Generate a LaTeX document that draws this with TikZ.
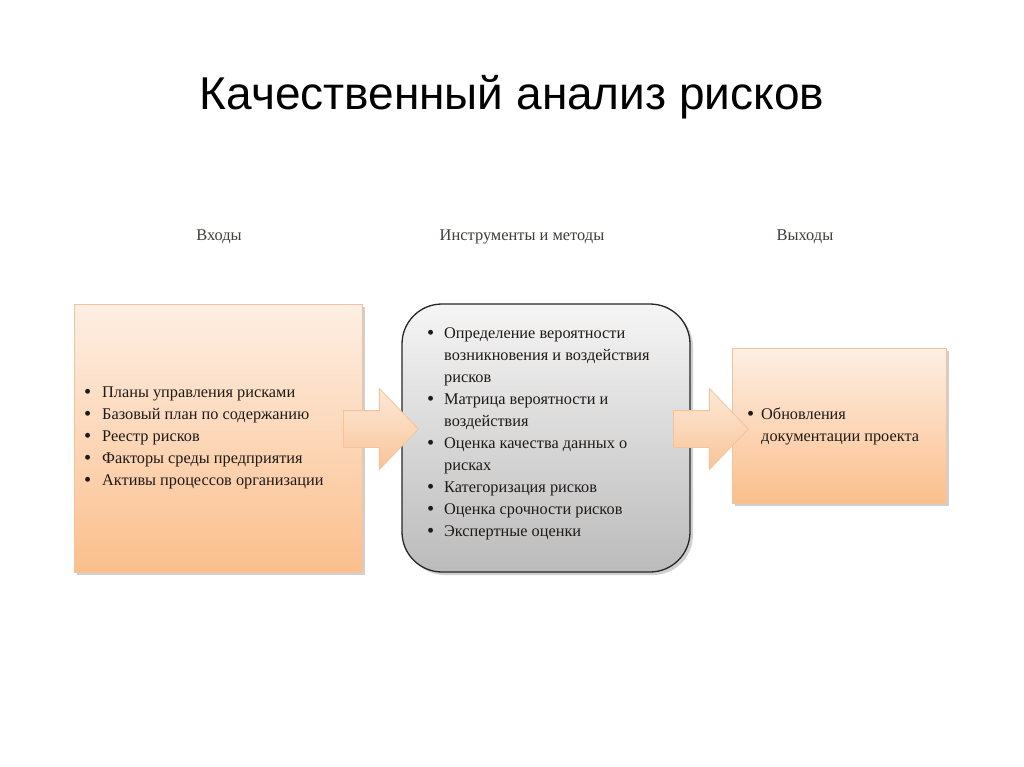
\documentclass[tikz,border=0pt]{standalone}
\usepackage{fontspec}
\setmainfont{Liberation Serif}
\newfontfamily\titlefont{Liberation Sans}
\usetikzlibrary{shadows,shapes.arrows}
\definecolor{txt}{HTML}{1E1A18}
\definecolor{peachtop}{HTML}{FDEFE4}
\definecolor{peachbot}{HTML}{FBBF8C}
\definecolor{peachline}{HTML}{F2C39C}
\definecolor{graytop}{HTML}{F5F5F5}
\definecolor{graybot}{HTML}{BBBBBB}
\definecolor{arrtop}{HTML}{FDE9D8}
\definecolor{arrbot}{HTML}{F9C497}
\newcommand{\bul}{\raisebox{-0.9pt}{\scalebox{1.25}{\textbullet}}}
\newcommand{\bl}[1]{\makebox[#1][l]{\bul}}
\tikzset{
  x=1pt, y=-1pt,
  softshadow/.style={drop shadow={shadow xshift=3pt, shadow yshift=-3pt, opacity=0.30, fill=black!60}},
  peachbox/.style={draw=peachline, line width=0.8pt, top color=peachtop, bottom color=peachbot, softshadow, inner sep=0pt},
  toolbox/.style={draw=black!85, line width=1.3pt, rounded corners=40pt, top color=graytop, bottom color=graybot, softshadow, inner sep=0pt},
  blockarrow/.style={single arrow, draw=peachline, line width=0.8pt, top color=arrtop, bottom color=arrbot, shading angle=0,
     minimum height=75pt, minimum width=80pt, inner xsep=0pt, inner ysep=18pt, single arrow tip angle=92, single arrow head extend=22pt, text height=0pt, text depth=0pt},
  hdr/.style={font=\fontsize{16.4}{18}\selectfont, text=txt!85},
  list/.style={font=\fontsize{16.3}{22}\selectfont, text=txt, align=left, inner sep=0pt, anchor=north west},
}
\begin{document}
\begin{tikzpicture}
\useasboundingbox (0,0) rectangle (1024,767);
\fill[white] (0,0) rectangle (1024,767);

\node[font=\titlefont\fontsize{46}{52}\selectfont, text=black] (title) at (512,97) {Качественный анализ рисков};

\node[hdr] (h1) at (219,237) {Входы};
\node[hdr] (h2) at (522,237) {Инструменты и методы};
\node[hdr] (h3) at (805,237) {Выходы};

\node[peachbox, minimum width=288pt, minimum height=268pt] (in) at (218,438) {};
\node[toolbox, minimum width=288pt, minimum height=268pt] (tools) at (546,438) {};
\node[peachbox, minimum width=214pt, minimum height=155pt] (out) at (839,425.5) {};

\node[blockarrow, anchor=tail] (a1) at (343,429) {};
\node[blockarrow, anchor=tail] (a2) at (673,429) {};

\node[list] (inlist) at (84,387) {\bl{18pt}Планы управления рисками\\ \bl{18pt}Базовый план по содержанию\\ \bl{18pt}Реестр рисков\\ \bl{18pt}Факторы среды предприятия\\ \bl{18pt}Активы процессов организации};

\node[list] (toollist) at (427,328) {\bl{17pt}Определение вероятности\\ \hspace*{17pt}возникновения и воздействия\\ \hspace*{17pt}рисков\\ \bl{17pt}Матрица вероятности и\\ \hspace*{17pt}воздействия\\ \bl{17pt}Оценка качества данных о\\ \hspace*{17pt}рисках\\ \bl{17pt}Категоризация рисков\\ \bl{17pt}Оценка срочности рисков\\ \bl{17pt}Экспертные оценки};

\node[list] (outlist) at (747,408) {\bl{14pt}Обновления\\ \hspace*{14pt}документации проекта};
\end{tikzpicture}
\end{document}
